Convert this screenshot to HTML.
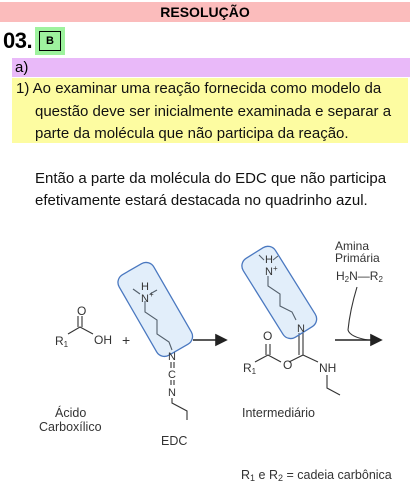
<!DOCTYPE html>
<html><head><meta charset="utf-8">
<style>
body{margin:0;width:410px;height:486px;background:#fff;font-family:"Liberation Sans",sans-serif;position:relative;overflow:hidden}
div,span{position:absolute}
.t{font-size:15px;color:#111;white-space:nowrap}
</style></head><body>
<div style="left:0;top:2px;width:410px;height:20px;background:#fbbcbc;text-align:center;font-weight:bold;font-size:14px;line-height:20px">RESOLUÇÃO</div>
<div style="left:3px;top:27px;font-size:22px;font-weight:bold;line-height:28px;letter-spacing:-0.5px">03.</div>
<div style="left:35px;top:27px;width:30px;height:28px;background:#9ef29e"><div style="left:4px;top:4px;width:20px;height:18px;border:1px solid #000;font-size:11px;font-weight:bold;text-align:center;line-height:18px">B</div></div>
<div style="left:12px;top:58px;width:396px;height:19px;background:#e9b9f9;font-size:15px;line-height:19px;padding-left:3px">a)</div>
<div style="left:12px;top:78px;width:396px;height:65px;background:#fdfca1"></div>
<div class="t" style="left:16px;top:80px">1) Ao examinar uma reação fornecida como modelo da</div>
<div class="t" style="left:35px;top:103px">questão deve ser inicialmente examinada e separar a</div>
<div class="t" style="left:35px;top:125px">parte da molécula que não participa da reação.</div>
<div class="t" style="left:35px;top:170px">Então a parte da molécula do EDC que não participa</div>
<div class="t" style="left:35px;top:192px">efetivamente estará destacada no quadrinho azul.</div>
<svg width="410" height="486" style="position:absolute;left:0;top:0" font-family="Liberation Sans, sans-serif" font-size="12" fill="#333">
<g stroke="#333" stroke-width="1.1" fill="none">
<path d="M68,334 L80,327 L93,334 M78,327 L78,316 M82,327 L82,316"/>
<path d="M133,289 L140,294 M150,294 L157,290 M145,301 L145,312 L157,320 L157,334 L169,342 L172,350"/>
<path d="M171,362 L171,368 M174,362 L174,368 M171,380 L171,385 M174,380 L174,385"/>
<path d="M172,398 L172,403 L187,411 L187,420"/>
<path d="M259,255 L264,260 M273,260 L278,256 M268,276 L268,286 L280,294 L280,306 L292,312 L296,320"/>
<path d="M255,362 L268,355 L281,362 M266,355 L266,344 M270,355 L270,344 M289,362 L303,355 L303,333 M299,355 L299,333 M303,355 L318,362 M327,375 L327,388 L340,395"/>
<path d="M357,287 Q350,310 348,330 Q350,337 368,340"/>
</g>
<g fill="#222" stroke="#222" stroke-width="1.6">
<line x1="193" y1="340" x2="217" y2="340"/><polygon points="216,335 226,340 216,345"/>
<line x1="335" y1="340" x2="372" y2="340"/><polygon points="371,335 381,340 371,345"/>
</g>
<rect x="135" y="263" width="40" height="93" rx="9" fill="rgba(160,200,240,0.3)" stroke="#4a78c0" stroke-width="1.3" transform="rotate(-30 155 309)"/>
<rect x="260" y="246" width="38" height="93" rx="9" fill="rgba(160,200,240,0.3)" stroke="#4a78c0" stroke-width="1.3" transform="rotate(-32 279 292)"/>
<text x="77" y="315">O</text><text x="55" y="345">R<tspan font-size="8" dy="2">1</tspan></text><text x="94" y="344">OH</text>
<text x="122" y="345" font-size="14">+</text>
<text x="141" y="290" font-size="11">H</text><text x="141" y="302" font-size="11">N</text><text x="149" y="297" font-size="8">+</text>
<text x="168" y="360" font-size="11">N</text><text x="168" y="378" font-size="11">C</text><text x="168" y="396" font-size="11">N</text>
<text x="265" y="263" font-size="11">H</text><text x="265" y="275" font-size="11">N</text><text x="273" y="271" font-size="8">+</text>
<text x="297" y="332" font-size="11">N</text><text x="263" y="340">O</text><text x="283" y="369">O</text>
<text x="243" y="372">R<tspan font-size="8" dy="2">1</tspan></text><text x="319" y="372">NH</text>
<text x="335" y="250">Amina</text><text x="335" y="262">Primária</text>
<text x="336" y="280">H<tspan font-size="8" dy="2">2</tspan><tspan dy="-2">N—R</tspan><tspan font-size="8" dy="2">2</tspan></text>
<text x="55" y="417" font-size="12.5">Ácido</text><text x="39" y="431" font-size="12.5">Carboxílico</text>
<text x="161" y="445" font-size="12.5">EDC</text>
<text x="242" y="417" font-size="12.5">Intermediário</text>
<text x="241" y="479" font-size="12.5">R<tspan font-size="9" dy="2">1</tspan><tspan dy="-2"> e R</tspan><tspan font-size="9" dy="2">2</tspan><tspan dy="-2"> = cadeia carbônica</tspan></text>
</svg>
</body></html>
